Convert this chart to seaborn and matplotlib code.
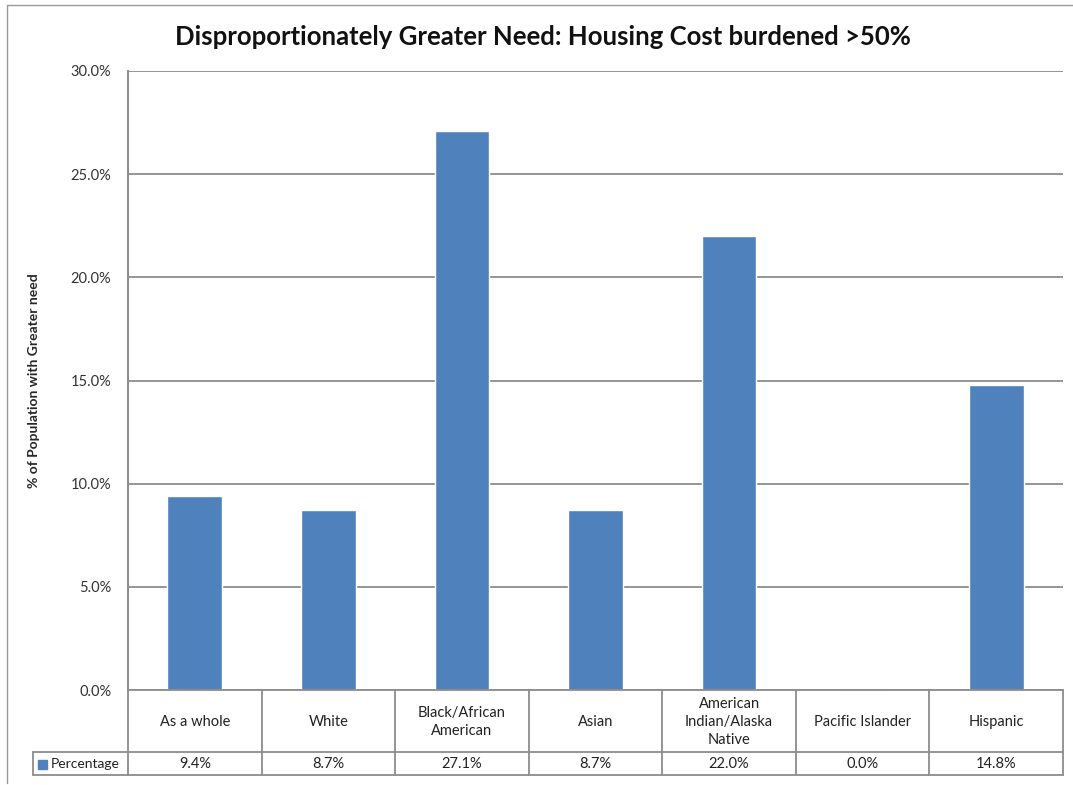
import matplotlib
matplotlib.use("Agg")
import matplotlib.pyplot as plt
import seaborn as sns
import pandas as pd
from matplotlib.lines import Line2D
from matplotlib.patches import Rectangle

categories = ["As a whole", "White", "Black/African\nAmerican", "Asian",
              "American\nIndian/Alaska\nNative", "Pacific Islander", "Hispanic"]
values = [9.4, 8.7, 27.1, 8.7, 22.0, 0.0, 14.8]
series_name = "Percentage"
yticks = [0, 5, 10, 15, 20, 25, 30]
title = "Disproportionately Greater Need: Housing Cost burdened >50%"
ylabel = "% of Population with Greater need"

sns.set_theme(style="white")
plt.rcParams['font.family'] = ['Lato', 'DejaVu Sans']

W, H = 1073, 785
fig = plt.figure(figsize=(W / 100, H / 100), dpi=100)

def fx(px): return px / W
def fy(py): return 1 - py / H

ax_l, ax_r, ax_t, ax_b = 128, 1063, 71, 690
ax = fig.add_axes([fx(ax_l), fy(ax_b), fx(ax_r) - fx(ax_l), fy(ax_t) - fy(ax_b)])

df = pd.DataFrame({"cat": categories, "val": values})
sns.barplot(data=df, x="cat", y="val", color="#4F81BD", saturation=1,
            width=0.41, ax=ax, zorder=3)
ax.set_xlim(-0.5, len(categories) - 0.5)
ax.set_ylim(0, 30)
ax.set_yticks(yticks)
ax.set_yticklabels([f"{v:.1f}%" for v in yticks], fontsize=10.5, color="#333333")
ax.tick_params(axis="y", length=0, pad=12)
ax.set_xticks([])
ax.set_xlabel("")
ax.set_ylabel(ylabel, fontsize=10, fontweight="bold")
axw = fx(ax_r) - fx(ax_l)
ax.yaxis.set_label_coords((fx(40) - fx(ax_l)) / axw, 0.5)
for v in yticks:
    ax.axhline(v, color="#8c8c8c", lw=1.3, zorder=1)
for s in ["top", "right", "bottom"]:
    ax.spines[s].set_visible(False)
ax.spines["left"].set_color("#8c8c8c")
ax.spines["left"].set_linewidth(1.3)

# data table
lc = "#8c8c8c"
row1_b, row2_b = 752, 775
n = len(categories)
colw = (ax_r - ax_l) / n
def hline(y, x0, x1):
    fig.add_artist(Line2D([fx(x0), fx(x1)], [fy(y), fy(y)], color=lc, lw=1.3))
def vline(x, y0, y1):
    fig.add_artist(Line2D([fx(x), fx(x)], [fy(y0), fy(y1)], color=lc, lw=1.3))

hline(ax_b, ax_l, ax_r)
hline(row1_b, 33, ax_r)
hline(row2_b, 33, ax_r)
vline(33, row1_b, row2_b)
vline(ax_l, ax_t, row2_b)
for i in range(1, n + 1):
    vline(ax_l + i * colw, ax_b, row2_b)
for i, (c, v) in enumerate(zip(categories, values)):
    cx = ax_l + (i + 0.5) * colw
    fig.text(fx(cx), fy((ax_b + row1_b) / 2 + 1), c, ha="center", va="center",
             fontsize=10.5, color="#222222", linespacing=1.4)
    fig.text(fx(cx), fy((row1_b + row2_b) / 2), f"{v:.1f}%", ha="center", va="center",
             fontsize=10.5, color="#222222")
fig.add_artist(Rectangle((fx(38), fy(769)), fx(9), fy(760) - fy(769), color="#4F81BD"))
fig.text(fx(51), fy((row1_b + row2_b) / 2), series_name, ha="left", va="center",
         fontsize=10, color="#222222")

fig.text(fx(543), fy(37), title, ha="center", va="center", fontsize=18.5,
         fontweight="bold", color="#111111")

# outer frame
fig.add_artist(Line2D([fx(7), fx(7)], [fy(5), fy(783)], color="#9a9a9a", lw=1))
fig.add_artist(Line2D([fx(7), fx(1073)], [fy(5), fy(5)], color="#9a9a9a", lw=1))

fig.savefig("out.png", dpi=100)
